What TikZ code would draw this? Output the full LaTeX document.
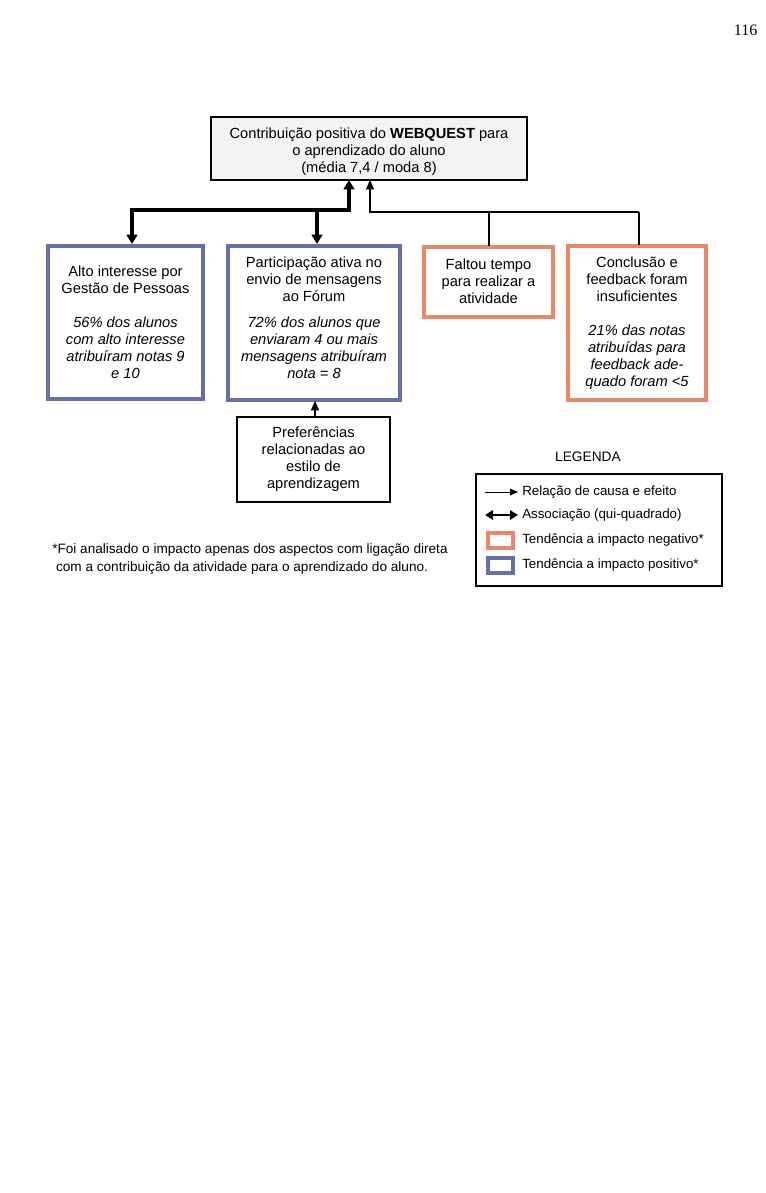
\documentclass[tikz,border=0pt]{standalone}
\usepackage{fontspec}
\setmainfont{Liberation Sans}
\newfontfamily\serifpn{Liberation Serif}
\usetikzlibrary{arrows.meta}
\definecolor{bblue}{HTML}{6670A8}
\definecolor{borange}{HTML}{E8876A}
\definecolor{topfill}{HTML}{F3F3F3}
\begin{document}
\begin{tikzpicture}[x=0.75pt,y=-0.75pt,
  txt/.style={font=\fontsize{11}{12.75}\selectfont, align=center, inner sep=0pt},
  legtxt/.style={anchor=west, font=\fontsize{10}{12}\selectfont, inner sep=0pt},
  bluebox/.style={draw=bblue, line width=3pt},
  orangebox/.style={draw=borange, line width=3pt},
  thick arr/.style={line width=3pt, -{Triangle[length=7pt,width=8pt]}},
  thin arr/.style={line width=0.8pt, -{Triangle[length=7pt,width=6pt]}},
  thin line/.style={line width=0.8pt}]
\useasboundingbox (0,0) rectangle (766,1193);
% page number
\node[font=\serifpn\fontsize{12}{14}\selectfont, anchor=east] (pn) at (762,30) {116};
% top box
\draw[fill=topfill, line width=1.2pt] (211,117) rectangle (527,180);
\node[txt] (top) at (369,151.5) {Contribuição positiva do \textbf{WEBQUEST} para\\o aprendizado do aluno\\(média 7,4 / moda 8)};
\coordinate (topA) at (349,180);
\coordinate (topB) at (370,180);
% boxes
\draw[bluebox] (48,246) rectangle (203,399);
\node[txt] (b1) at (125.5,322) {Alto interesse por\\Gestão de Pessoas\\[12.75pt]\itshape 56\% dos alunos\\\itshape com alto interesse\\\itshape atribuíram notas 9\\\itshape e 10};
\draw[bluebox] (228,246) rectangle (400,400);
\node[txt] (b2) at (314,318) {Participação ativa no\\envio de mensagens\\ao Fórum\\[6.75pt]\itshape 72\% dos alunos que\\\itshape enviaram 4 ou mais\\\itshape mensagens atribuíram\\\itshape nota = 8};
\draw[orangebox] (424,247) rectangle (553,317);
\node[txt] (b3) at (488.5,281) {Faltou tempo\\para realizar a\\atividade};
\draw[orangebox] (568,246) rectangle (706,400);
\node[txt] (b4) at (637,323) {Conclusão e\\feedback foram\\insuficientes\\[12.75pt]\itshape 21\% das notas\\\itshape atribuídas para\\\itshape feedback ade-\\\itshape quado foram <5};
\draw[line width=1pt] (237,417) rectangle (390,502);
\node[txt] (b5) at (313.5,459) {Preferências\\relacionadas ao\\estilo de\\aprendizagem};
% coordinates for connectors
\coordinate (j1) at (349,210);
\coordinate (j1l) at (132,210);
\coordinate (j1m) at (317,210);
\coordinate (b1t) at (132,244);
\coordinate (b2t) at (317,244);
\coordinate (j2) at (370,212);
\coordinate (j2r) at (639,212);
\coordinate (j2m) at (489,212);
\coordinate (b3t) at (489,246);
\coordinate (b4t) at (639,245);
\coordinate (b5t) at (315,417);
\coordinate (b2b) at (315,401);
% thick association arrows
\draw[thick arr] (j1l) -- (j1) -- (topA);
\draw[thick arr] (j1) -- (j1l) -- (b1t);
\draw[thick arr] (j1m) -- (b2t);
% thin cause arrows
\draw[thin arr] (j2r) -- (j2) -- (topB);
\draw[thin line] (j2r) -- (b4t);
\draw[thin line] (j2m) -- (b3t);
\draw[thin arr] (b5t) -- (b2b);
% legend
\node[font=\fontsize{10.3}{12}\selectfont] (legt) at (588,457) {LEGENDA};
\draw[line width=0.8pt] (476,474) rectangle (722,586);
\coordinate (l1a) at (485,492); \coordinate (l1b) at (518,492);
\draw[line width=0.7pt, -{Triangle[length=6pt,width=5pt]}] (l1a) -- (l1b);
\node[legtxt] (l1) at (522,492) {Relação de causa e efeito};
\coordinate (l2a) at (485,515); \coordinate (l2b) at (518,515);
\draw[line width=2pt, {Triangle[length=6pt,width=7pt]}-{Triangle[length=6pt,width=7pt]}] (l2a) -- (l2b);
\node[legtxt] (l2) at (522,515) {Associação (qui-quadrado)};
\draw[draw=borange, line width=2.5pt] (488,533) rectangle (513,548);
\node[legtxt] (l3) at (522,540) {Tendência a impacto negativo*};
\draw[draw=bblue, line width=2.5pt] (488,558) rectangle (513,573);
\node[legtxt] (l4) at (522,565) {Tendência a impacto positivo*};
% footnote
\node[anchor=base west, align=left, font=\fontsize{10.2}{13.5}\selectfont, inner sep=0pt] (fn) at (52,571) {*Foi analisado o impacto apenas dos aspectos com ligação direta\\\ com a contribuição da atividade para o aprendizado do aluno.};
\end{tikzpicture}
\end{document}
